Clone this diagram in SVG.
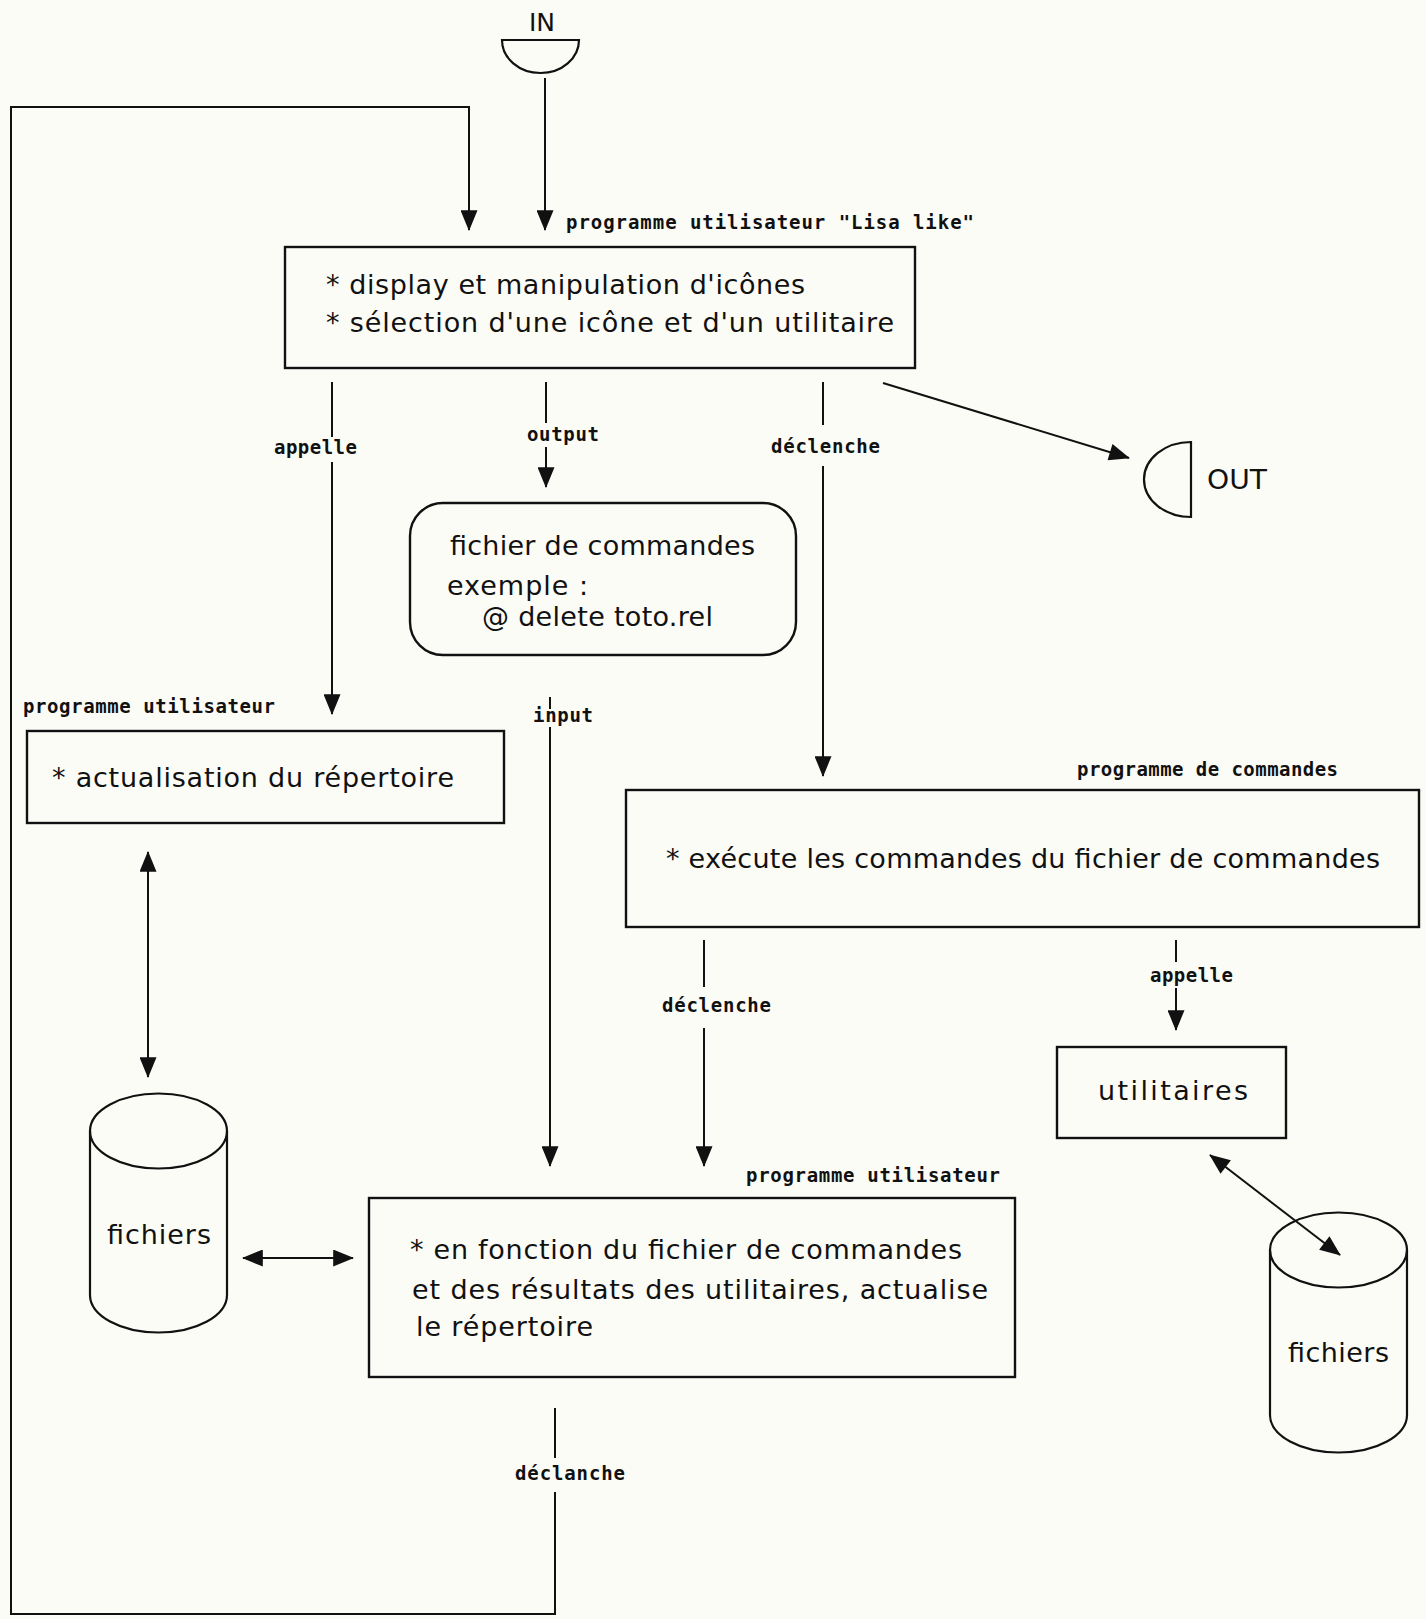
<svg xmlns="http://www.w3.org/2000/svg" width="1426" height="1619" viewBox="0 0 1426 1619">
  <style>
    .box { fill: none; stroke: #111; stroke-width: 2.4; }
    .shape { fill: none; stroke: #111; stroke-width: 2.2; }
    .txt { font-family: "DejaVu Sans", "Liberation Sans", sans-serif; font-size: 27px; fill: #111; }
    .lbl { font-family: "DejaVu Sans Mono", "Liberation Mono", monospace; font-size: 19px; font-weight: bold; fill: #111; }
    .edge { fill: none; stroke: #111; stroke-width: 2; }
    .arr { marker-end: url(#head); }
    .both { marker-start: url(#head); marker-end: url(#head); }
  </style>
  <defs>
    <marker id="head" viewBox="0 0 22 18" refX="21" refY="9" markerWidth="22" markerHeight="17" markerUnits="userSpaceOnUse" orient="auto-start-reverse">
      <path d="M0,0 L22,9 L0,18 z" fill="#111"/>
    </marker>
  </defs>

  <rect x="0" y="0" width="1426" height="1619" fill="#fcfcf7"/>

  <!-- entry and exit terminals -->
  <g id="in">
    <text x="542" y="31" text-anchor="middle" font-family="DejaVu Sans, sans-serif" font-size="25" fill="#111">IN</text>
    <path class="shape" d="M502,40 L579,40 A38.5,33 0 0 1 502,40 Z"/>
  </g>
  <g id="out">
    <path class="shape" d="M1191,442 L1191,517 A47,37.5 0 0 1 1191,442 Z"/>
    <text x="1207" y="489" font-family="DejaVu Sans, sans-serif" font-size="26" fill="#111" textLength="60" lengthAdjust="spacingAndGlyphs">OUT</text>
  </g>

  <!-- main user program -->
  <g id="lisa">
    <text class="lbl" x="566" y="229" textLength="408">programme utilisateur "Lisa like"</text>
    <rect class="box" x="285" y="247" width="630" height="121"/>
    <text class="txt" x="326" y="294" textLength="479">* display et manipulation d'icônes</text>
    <text class="txt" x="326" y="332" textLength="568">* sélection d'une icône et d'un utilitaire</text>
  </g>

  <!-- command file -->
  <g id="cmdfile">
    <rect class="box" x="410" y="503" width="386" height="152" rx="33" ry="33"/>
    <text class="txt" x="450" y="555" textLength="305">fichier de commandes</text>
    <text class="txt" x="447" y="595" textLength="141">exemple :</text>
    <text class="txt" x="482" y="626" textLength="231">@ delete toto.rel</text>
  </g>

  <!-- directory update program -->
  <g id="actualisation">
    <text class="lbl" x="23" y="713" textLength="252">programme utilisateur</text>
    <rect class="box" x="27" y="731" width="477" height="92"/>
    <text class="txt" x="52" y="787" textLength="402">* actualisation du répertoire</text>
  </g>

  <!-- command program -->
  <g id="exec">
    <text class="lbl" x="1077" y="776" textLength="261">programme de commandes</text>
    <rect class="box" x="626" y="790" width="793" height="137"/>
    <text class="txt" x="666" y="868" textLength="714">* exécute les commandes du fichier de commandes</text>
  </g>

  <!-- utilities -->
  <g id="utilitaires">
    <rect class="box" x="1057" y="1047" width="229" height="91"/>
    <text class="txt" x="1098" y="1100" textLength="150">utilitaires</text>
  </g>

  <!-- file stores -->
  <g id="fichiers-left">
    <path class="shape" d="M90,1131 L90,1295 A68.5,37.5 0 0 0 227,1295 L227,1131"/>
    <ellipse class="shape" cx="158.5" cy="1131" rx="68.5" ry="37.5"/>
    <text class="txt" x="107" y="1244" textLength="104">fichiers</text>
  </g>
  <g id="fichiers-right">
    <path class="shape" d="M1270,1250 L1270,1415 A68.5,37.5 0 0 0 1407,1415 L1407,1250"/>
    <ellipse class="shape" cx="1338.5" cy="1250" rx="68.5" ry="37.5"/>
    <text class="txt" x="1288" y="1362" textLength="101">fichiers</text>
  </g>

  <!-- final user program -->
  <g id="resultat">
    <text class="lbl" x="746" y="1182" textLength="254">programme utilisateur</text>
    <rect class="box" x="369" y="1198" width="646" height="179"/>
    <text class="txt" x="410" y="1259" textLength="552">* en fonction du fichier de commandes</text>
    <text class="txt" x="412" y="1299" textLength="576">et des résultats des utilitaires, actualise</text>
    <text class="txt" x="416" y="1336" textLength="177">le répertoire</text>
  </g>

  <!-- connectors -->
  <g id="connectors">
    <path class="edge arr" d="M545,78 L545,230"/>
    <path class="edge" d="M555,1408 L555,1458"/>
    <path class="edge arr" d="M555,1492 L555,1614 L11,1614 L11,107 L469,107 L469,230"/>
    <text class="lbl" x="515" y="1480" textLength="110">déclanche</text>

    <path class="edge" d="M332,382 L332,437"/>
    <path class="edge arr" d="M332,462 L332,714"/>
    <text class="lbl" x="274" y="454" textLength="83">appelle</text>

    <path class="edge" d="M546,382 L546,423"/>
    <path class="edge arr" d="M546,447 L546,487"/>
    <text class="lbl" x="527" y="441" textLength="72">output</text>

    <path class="edge" d="M823,382 L823,425"/>
    <path class="edge arr" d="M823,466 L823,776"/>
    <text class="lbl" x="771" y="453" textLength="109">déclenche</text>

    <path class="edge arr" d="M883,383 L1129,458"/>

    <path class="edge" d="M550,697 L550,709"/>
    <path class="edge arr" d="M550,727 L550,1166"/>
    <text class="lbl" x="533" y="722" textLength="60">input</text>

    <path class="edge" d="M704,940 L704,987"/>
    <path class="edge arr" d="M704,1028 L704,1166"/>
    <text class="lbl" x="662" y="1012" textLength="109">déclenche</text>

    <path class="edge" d="M1176,940 L1176,962"/>
    <path class="edge arr" d="M1176,988 L1176,1030"/>
    <text class="lbl" x="1150" y="982" textLength="83">appelle</text>

    <path class="edge both" d="M148,852 L148,1077"/>
    <path class="edge both" d="M243,1258 L353,1258"/>
    <path class="edge both" d="M1210,1155 L1340,1255"/>
  </g>
</svg>
